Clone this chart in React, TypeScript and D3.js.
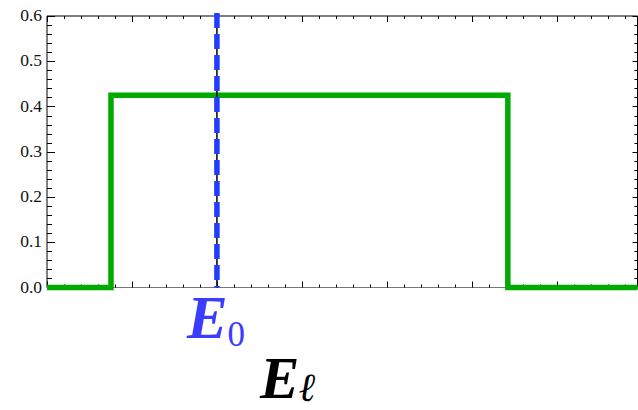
import React from "react";
import * as d3 from "d3";

// Flat spectrum on an energy axis, with the reference energy E0 marked.
const stepEdges = [0.753, 5.424]; // lower and upper edge of the window
const stepLevel = 0.425; // height of the flat part
const e0Position = [2.0];
const yTickValues = [0, 0.1, 0.2, 0.3, 0.4, 0.5, 0.6];
const yTickLabels = ["0.0", "0.1", "0.2", "0.3", "0.4", "0.5", "0.6"];
const xDomain = [0, 6.95];
const yDomain = [0, 0.6];

const W = 638;
const H = 410;
const M = { left: 47, right: 637.5, top: 16, bottom: 287.5 };

export default function App() {
  const x = d3.scaleLinear().domain(xDomain).range([M.left, M.right]);
  const y = d3.scaleLinear().domain(yDomain).range([M.bottom, M.top]);

  const [lo, hi] = stepEdges;
  const stepPoints: [number, number][] = [
    [xDomain[0], 0],
    [lo, 0],
    [lo, stepLevel],
    [hi, stepLevel],
    [hi, 0],
    [xDomain[1], 0],
  ];
  const line = d3
    .line<[number, number]>()
    .x((d) => x(d[0]))
    .y((d) => y(d[1]));

  const xMinor = d3.range(0, 35).map((i) => i * 0.2);
  const yMinor = d3.range(0, 31).map((i) => i * 0.02);
  const isMajor = (v: number, step: number) =>
    Math.abs(v / step - Math.round(v / step)) < 1e-6;

  const serif = "'Liberation Serif', 'DejaVu Serif', serif";
  const e0 = e0Position[0];

  return (
    <svg
      width={W}
      height={H}
      style={{ position: "absolute", left: 0, top: 0, background: "#fff" }}
    >
      {/* frame */}
      <g stroke="#000" strokeWidth={1} fill="none">
        <line x1={M.left} x2={M.right} y1={M.top} y2={M.top} />
        <line x1={M.left} x2={M.left} y1={M.top} y2={M.bottom} />
        <line x1={M.right} x2={M.right} y1={M.top} y2={M.bottom} />
        <line x1={M.left} x2={M.right} y1={M.bottom} y2={M.bottom} stroke="#777" />
      </g>

      {/* ticks on all four sides */}
      <g stroke="#000" strokeWidth={1}>
        {xMinor.map((v, i) => {
          const len = isMajor(v, 1) ? 6 : 3;
          const px = Math.round(x(v)) + 0.5;
          return (
            <g key={i}>
              <line x1={px} x2={px} y1={M.bottom} y2={M.bottom - len} />
              <line x1={px} x2={px} y1={M.top} y2={M.top + len} />
            </g>
          );
        })}
        {yMinor.map((v, i) => {
          const major = isMajor(v, 0.1);
          const len = major ? 8 : 5;
          const py = Math.round(y(v)) + 0.5;
          return (
            <g key={i}>
              <line x1={M.left} x2={M.left + len} y1={py} y2={py} />
              <line x1={M.right} x2={M.right - (major ? 5 : 3)} y1={py} y2={py} />
            </g>
          );
        })}
      </g>

      {/* y tick labels */}
      <g fontFamily={serif} fontSize={17.5} fill="#111" textAnchor="end">
        {yTickValues.map((v, i) => (
          <text key={i} x={42} y={y(v) + 5}>
            {yTickLabels[i]}
          </text>
        ))}
      </g>

      {/* step curve */}
      <path
        d={line(stepPoints) || ""}
        fill="none"
        stroke="#00aa00"
        strokeWidth={5.5}
        strokeLinejoin="miter"
      />

      {/* E0 marker: thin black rule under a blue dashed line */}
      <line
        x1={x(e0)}
        x2={x(e0)}
        y1={y(yDomain[1])}
        y2={y(0)}
        stroke="#000"
        strokeWidth={1.5}
      />
      <line
        x1={x(e0)}
        x2={x(e0)}
        y1={y(yDomain[1]) - 3}
        y2={y(0)}
        stroke="#1f3cff"
        strokeWidth={5.5}
        strokeDasharray="15 6"
      />

      {/* labels */}
      <text
        x={x(e0) - 30}
        y={338}
        fontFamily={serif}
        fontWeight="bold"
        fontStyle="italic"
        fontSize={61}
        fill="#3a3cff"
      >
        E
        <tspan fontStyle="normal" fontWeight="normal" fontSize={35} dy={8}>
          0
        </tspan>
      </text>
      <text
        x={260}
        y={398}
        fontFamily={serif}
        fontWeight="bold"
        fontStyle="italic"
        fontSize={59}
        fill="#000"
      >
        E
        <tspan fontSize={40} dy={3}>
          ℓ
        </tspan>
      </text>
    </svg>
  );
}
